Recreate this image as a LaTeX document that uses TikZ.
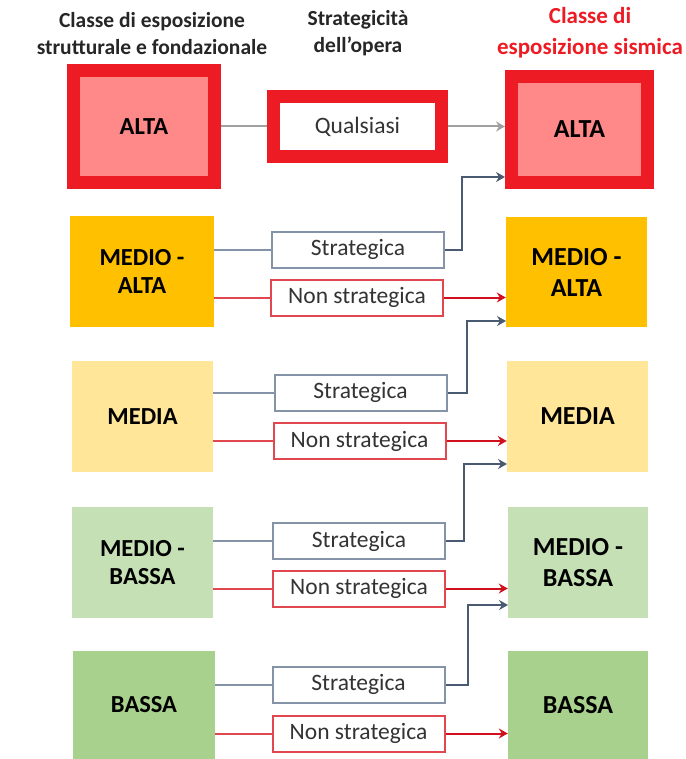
\documentclass[tikz,border=0pt]{standalone}
\usepackage{fontspec}
\setmainfont{Carlito}
\usetikzlibrary{arrows.meta}
\definecolor{redB}{HTML}{ED1C24}
\definecolor{pinkF}{HTML}{FF8989}
\definecolor{orangeF}{HTML}{FFC000}
\definecolor{yellowF}{HTML}{FFE699}
\definecolor{lgreenF}{HTML}{C5E0B4}
\definecolor{greenF}{HTML}{A9D18E}
\definecolor{slateL}{HTML}{8593A8}
\definecolor{slateD}{HTML}{4A5A70}
\definecolor{redL}{HTML}{E0474F}
\definecolor{redD}{HTML}{D0101C}
\definecolor{greyL}{HTML}{A0A0A0}
\definecolor{headT}{HTML}{262626}
\definecolor{midT}{HTML}{333333}
\tikzset{
  tip/.style={-{Stealth[length=9pt,width=10pt,inset=3pt]}},
  lbox/.style={inner sep=0pt, align=center, text=black,
    font=\fontsize{24.5}{28}\selectfont\bfseries},
  rbox/.style={inner sep=0pt, align=center, text=black,
    font=\fontsize{26}{31}\selectfont\bfseries},
  redframe/.style={draw=redB, line width=13pt, fill=pinkF},
  sbox/.style={draw=slateL, line width=2pt, fill=white, inner sep=0pt,
    minimum width=172pt, minimum height=36pt, text=midT,
    font=\fontsize{23.5}{26}\selectfont},
  nbox/.style={draw=redL, line width=2pt, fill=white, inner sep=0pt,
    minimum width=172pt, minimum height=36pt, text=midT,
    font=\fontsize{23.5}{26}\selectfont},
  gline/.style={draw=slateL, line width=2pt},
  garrow/.style={draw=slateD, line width=2pt, tip},
  rline/.style={draw=redL, line width=2pt},
  rarrow/.style={draw=redD, line width=2pt, tip},
  head/.style={align=center, text=headT, inner sep=0pt,
    font=\fontsize{21.5}{27}\selectfont\bfseries},
}
\begin{document}
\begin{tikzpicture}[x=1pt,y=-1pt]
\useasboundingbox (0,0) rectangle (685,759);

% headings
\node[head] (h1) at (152,33.5) {Classe di esposizione\\strutturale e fondazionale};
\node[head] (h2) at (358,33.5) {Strategicità\\dell’opera};
\node[head, text=redB, font=\fontsize{23}{31}\selectfont\bfseries] (h3) at (590,32.5) {Classe di\\esposizione sismica};

% left column
\node[lbox, redframe, minimum width=141.3pt, minimum height=112pt] (lA) at (143.9,126.5) {ALTA};
\node[lbox, fill=orangeF, minimum width=144pt, minimum height=111pt] (lMA) at (142,271.5) {MEDIO -\\ALTA};
\node[lbox, fill=yellowF, minimum width=141pt, minimum height=111pt] (lM) at (142.5,416.5) {MEDIA};
\node[lbox, fill=lgreenF, minimum width=141pt, minimum height=111pt] (lMB) at (142.5,562.5) {MEDIO -\\BASSA};
\node[lbox, fill=greenF, minimum width=142pt, minimum height=108pt] (lB) at (144,705) {BASSA};

% right column
\node[rbox, redframe, minimum width=136pt, minimum height=106pt] (rA) at (579.5,129.5) {ALTA};
\node[rbox, fill=orangeF, minimum width=141pt, minimum height=110pt] (rMA) at (576.5,272) {MEDIO -\\ALTA};
\node[rbox, fill=yellowF, minimum width=141pt, minimum height=111pt] (rM) at (577.5,416.5) {MEDIA};
\node[rbox, fill=lgreenF, minimum width=140pt, minimum height=111pt] (rMB) at (578,562.5) {MEDIO -\\BASSA};
\node[rbox, fill=greenF, minimum width=140pt, minimum height=108pt] (rB) at (578,705) {BASSA};

% middle column
\node[draw=redB, line width=13pt, fill=white, inner sep=0pt, minimum width=168pt, minimum height=60pt,
  text=midT, font=\fontsize{23.5}{26}\selectfont] (q) at (357.5,126.5) {Qualsiasi};
\node[sbox] (s1) at (358,249.5) {Strategica};
\node[nbox] (n1) at (357,297.5) {Non strategica};
\node[sbox] (s2) at (360.5,392.5) {Strategica};
\node[nbox] (n2) at (359.5,441) {Non strategica};
\node[sbox] (s3) at (359,541) {Strategica};
\node[nbox] (n3) at (359,588.5) {Non strategica};
\node[sbox] (s4) at (358.5,684.5) {Strategica};
\node[nbox] (n4) at (358.5,733.5) {Non strategica};

% arrow targets
\coordinate (t1) at (505,177);
\coordinate (t2) at (506,321);
\coordinate (t3) at (507,464);
\coordinate (t4) at (508,605);

% ALTA row
\draw[draw=greyL, line width=2pt] (lA.east) -- (q.west);
\draw[draw=greyL, line width=2pt, tip] (q.east) -- (rA.west |- q.east);

% left connectors
\draw[gline] (lMA.east |- s1.west) -- (s1.west);
\draw[rline] (lMA.east |- n1.west) -- (n1.west);
\draw[gline] (lM.east |- s2.west) -- (s2.west);
\draw[rline] (lM.east |- n2.west) -- (n2.west);
\draw[gline] (lMB.east |- s3.west) -- (s3.west);
\draw[rline] (lMB.east |- n3.west) -- (n3.west);
\draw[gline] (lB.east |- s4.west) -- (s4.west);
\draw[rline] (lB.east |- n4.west) -- (n4.west);

% strategic: one class up
\draw[garrow] (s1.east) -- ++(17,0) |- (t1);
\draw[garrow] (s2.east) -- ++(19,0) |- (t2);
\draw[garrow] (s3.east) -- ++(18,0) |- (t3);
\draw[garrow] (s4.east) -- ++(22,0) |- (t4);

% non strategic: same class
\draw[rarrow] (n1.east) -- (n1.east -| rMA.west);
\draw[rarrow] (n2.east) -- (n2.east -| rM.west);
\draw[rarrow] (n3.east) -- (n3.east -| rMB.west);
\draw[rarrow] (n4.east) -- (n4.east -| rB.west);
\end{tikzpicture}
\end{document}
